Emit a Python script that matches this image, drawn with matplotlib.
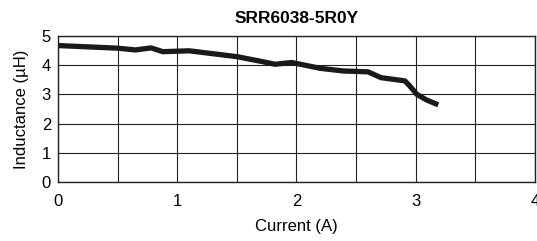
import matplotlib
matplotlib.use('Agg')
import matplotlib.pyplot as plt

plt.rcParams['font.family'] = ['Liberation Sans', 'DejaVu Sans']

# inductance vs current curve
current = [0.0, 0.5, 0.65, 0.78, 0.88, 1.1, 1.5, 1.69, 1.82, 1.96, 2.2, 2.39,
           2.6, 2.71, 2.91, 2.95, 3.01, 3.09, 3.19]
inductance = [4.67, 4.58, 4.52, 4.59, 4.46, 4.49, 4.29, 4.14, 4.03, 4.09, 3.89,
              3.80, 3.77, 3.57, 3.46, 3.29, 3.00, 2.81, 2.64]
x_ticks = [0, 1, 2, 3, 4]
y_ticks = [0, 1, 2, 3, 4, 5]

fig = plt.figure(figsize=(5.37, 2.41), dpi=100)
ax = fig.add_axes([0.108, 0.245, 0.888, 0.606])

ax.plot(current, inductance, color='#1a1a1a', linewidth=3.8, solid_capstyle='butt')

ax.set_xlim(0, 4)
ax.set_ylim(0, 5)
ax.set_xticks(x_ticks)
ax.set_yticks(y_ticks)
ax.set_xticks([0.5, 1.5, 2.5, 3.5], minor=True)
ax.grid(True, which='both', color='#222222', linewidth=0.8)
ax.tick_params(which='both', length=0, labelsize=12)
ax.tick_params(axis='x', pad=9)
ax.tick_params(axis='y', pad=5)
for s in ax.spines.values():
    s.set_color('#222222')
    s.set_linewidth(1.0)

ax.set_title('SRR6038-5R0Y', fontsize=12.5, fontweight='bold', pad=9)
ax.set_xlabel('Current (A)', fontsize=12, labelpad=7)
ax.set_ylabel('Inductance (µH)', fontsize=12, labelpad=9)

fig.savefig('out.png', dpi=100)
